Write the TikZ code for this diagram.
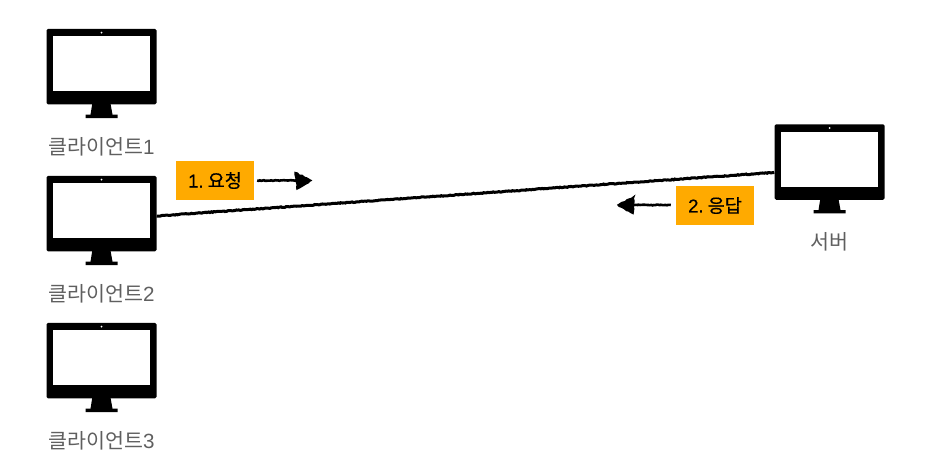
\documentclass[tikz,border=0pt]{standalone}
\usepackage{fontspec}
\setmainfont{Noto Sans CJK KR}
\newfontfamily\latinfont{Liberation Sans}
\newfontfamily\stepfont[FakeBold=0.35]{Noto Sans CJK KR}
\newfontfamily\steplatin[FakeBold=0.35]{Liberation Sans}
\usepackage{xcolor}
\usetikzlibrary{arrows.meta,decorations.pathmorphing,calc}
\definecolor{stepfill}{HTML}{FFAA00}
\definecolor{labelgray}{HTML}{5F5F5F}
\tikzset{
  bezel/.style={fill=black, rounded corners=1.5pt, minimum width=110pt, minimum height=75.5pt, inner sep=0pt},
  screen/.style={fill=white, minimum width=97pt, minimum height=55pt, inner sep=0pt},
  devlabel/.style={text=labelgray, inner sep=0pt, font=\fontsize{20.6}{24}\selectfont},
  stepbox/.style={fill=stepfill, text=black, minimum width=78pt, minimum height=39pt, inner sep=0pt,
                  font=\fontsize{18.6}{22}\stepfont},
  roughline/.style={line width=#1, decorate, decoration={random steps, segment length=1.4pt, amplitude=0.4pt}},
  roughline/.default=2pt
}
\newcommand{\monitor}[4]{%
  \node[bezel] (#1) at (#2,#3) {};
  \node[screen] (#1-screen) at ($(#1)+(0,-3)$) {};
  \fill[white] ($(#1)+(0,-34)$) circle (1pt);
  \fill ($(#1)+(-9.2,37)$) -- ($(#1)+(9,37)$) -- ($(#1)+(11,48)$) -- ($(#1)+(16,48)$)
        -- ($(#1)+(16,51.4)$) -- ($(#1)+(-16,51.4)$) -- ($(#1)+(-16,48)$) -- ($(#1)+(-11,48)$) -- cycle;
  \node[devlabel] (#1-label) at ($(#1)+(0,80)$) {#4};
}

\begin{document}
\begin{tikzpicture}[x=1pt, y=-1pt, >=Stealth]
  \useasboundingbox (0,0) rectangle (935,474);
  % clients on the left, server on the right
  \monitor{client1}{101.5}{66.6}{클라이언트{\latinfont 1}}
  \monitor{client2}{101.5}{213.6}{클라이언트{\latinfont 2}}
  \monitor{client3}{101.5}{360.6}{클라이언트{\latinfont 3}}
  \monitor{server}{829.5}{162}{서버}
  % request and response
  \draw[roughline=3pt] ($(client2.east)+(0,2.4)$) -- ($(server.west)+(0,10.4)$);
  \node[stepbox] (request) at (215,180.5) {{\steplatin 1.}\hspace{4pt}요청};
  \node[stepbox] (response) at (715,205.5) {{\steplatin 2.}\hspace{4pt}응답};
  \coordinate (requesttip) at (311,180.5);
  \coordinate (responsetip) at (618,205);
  \draw[roughline=2.6pt] ($(request.east)+(3,0)$) -- ($(requesttip)+(-8,0)$);
  \fill[draw=black, line width=1.4pt, decorate, decoration={random steps, segment length=2.5pt, amplitude=0.7pt}]
    (requesttip) -- ($(requesttip)+(-16,-8)$) -- ($(requesttip)+(-14,8.5)$) -- cycle;
  \draw[roughline=2.6pt] ($(response.west)+(-5,-0.5)$) -- ($(responsetip)+(8,0)$);
  \fill[draw=black, line width=1.4pt, decorate, decoration={random steps, segment length=2.5pt, amplitude=0.7pt}]
    (responsetip) -- ($(responsetip)+(16,-8.5)$) -- ($(responsetip)+(15,8.5)$) -- cycle;
\end{tikzpicture}
\end{document}
